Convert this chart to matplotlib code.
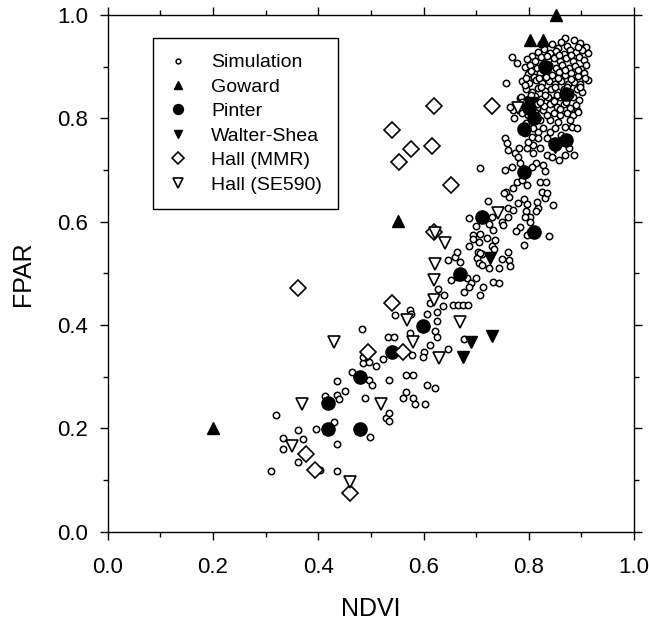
import numpy as np
import matplotlib.pyplot as plt
from matplotlib.ticker import MultipleLocator

plt.rcParams['font.family'] = ['Liberation Sans', 'DejaVu Sans']

# (NDVI, FPAR) pairs
simulation = [
    (0.310, 0.117), (0.319, 0.226), (0.333, 0.181), (0.333, 0.160), (0.361, 0.196),
    (0.361, 0.135), (0.371, 0.180), (0.395, 0.199), (0.413, 0.262), (0.403, 0.120),
    (0.430, 0.213), (0.435, 0.170), (0.435, 0.118), (0.498, 0.183), (0.435, 0.292),
    (0.450, 0.273), (0.435, 0.265), (0.439, 0.257), (0.464, 0.310), (0.489, 0.258),
    (0.483, 0.393), (0.485, 0.327), (0.496, 0.329), (0.485, 0.339), (0.510, 0.320),
    (0.523, 0.334), (0.496, 0.294), (0.502, 0.283), (0.534, 0.294), (0.528, 0.220),
    (0.534, 0.230), (0.534, 0.215), (0.546, 0.420), (0.532, 0.377), (0.544, 0.377),
    (0.566, 0.304), (0.580, 0.304), (0.566, 0.271), (0.561, 0.258), (0.580, 0.258),
    (0.584, 0.248), (0.603, 0.248), (0.607, 0.283), (0.622, 0.278), (0.574, 0.430),
    (0.576, 0.422), (0.606, 0.422), (0.626, 0.426), (0.626, 0.408), (0.625, 0.377),
    (0.622, 0.389), (0.612, 0.443), (0.637, 0.437), (0.656, 0.439), (0.665, 0.439),
    (0.675, 0.439), (0.684, 0.439), (0.574, 0.385), (0.612, 0.362), (0.600, 0.348),
    (0.599, 0.338), (0.646, 0.354), (0.677, 0.373), (0.578, 0.342),
    (0.627, 0.470), (0.639, 0.458), (0.652, 0.487), (0.663, 0.493), (0.682, 0.491),
    (0.690, 0.481), (0.700, 0.491), (0.677, 0.464), (0.686, 0.474), (0.713, 0.474),
    (0.707, 0.458), (0.732, 0.484), (0.743, 0.481),
    (0.646, 0.526), (0.660, 0.532), (0.669, 0.522), (0.663, 0.542), (0.686, 0.553),
    (0.694, 0.574), (0.707, 0.576), (0.694, 0.566), (0.705, 0.561), (0.720, 0.569),
    (0.736, 0.565), (0.730, 0.553), (0.734, 0.547), (0.703, 0.542), (0.711, 0.538),
    (0.701, 0.530), (0.705, 0.520), (0.711, 0.516), (0.707, 0.540), (0.760, 0.542),
    (0.762, 0.526), (0.765, 0.515), (0.749, 0.528), (0.743, 0.510), (0.725, 0.510),
    (0.722, 0.640), (0.686, 0.607), (0.700, 0.591), (0.730, 0.609), (0.725, 0.595),
    (0.732, 0.584), (0.749, 0.600), (0.760, 0.609), (0.760, 0.627), (0.770, 0.622),
    (0.780, 0.636), (0.791, 0.644), (0.762, 0.648), (0.757, 0.658), (0.770, 0.665),
    (0.778, 0.677), (0.797, 0.671), (0.821, 0.677), (0.833, 0.677), (0.825, 0.658),
    (0.831, 0.646), (0.846, 0.632), (0.818, 0.627), (0.814, 0.621), (0.797, 0.634),
    (0.795, 0.621), (0.802, 0.609), (0.793, 0.609), (0.802, 0.600), (0.783, 0.590),
    (0.776, 0.582), (0.802, 0.580), (0.797, 0.574), (0.838, 0.572), (0.791, 0.555),
    (0.751, 0.594), (0.816, 0.638), (0.753, 0.656), (0.707, 0.704), (0.787, 0.681),
    (0.835, 0.656),
    (0.755, 0.762), (0.759, 0.752), (0.774, 0.733), (0.782, 0.743), (0.780, 0.725),
    (0.796, 0.742), (0.808, 0.749), (0.821, 0.742), (0.808, 0.733), (0.834, 0.729),
    (0.844, 0.725), (0.858, 0.719), (0.869, 0.729), (0.886, 0.729), (0.783, 0.713),
    (0.814, 0.713), (0.827, 0.709), (0.831, 0.698), (0.768, 0.706), (0.755, 0.700),
    (0.806, 0.706), (0.761, 0.739), (0.799, 0.754), (0.793, 0.772),
    (0.770, 0.816), (0.783, 0.840), (0.815, 0.820), (0.827, 0.816), (0.844, 0.830),
    (0.853, 0.812), (0.869, 0.820), (0.882, 0.816), (0.891, 0.816), (0.821, 0.797),
    (0.840, 0.797), (0.856, 0.793), (0.869, 0.783), (0.882, 0.783), (0.891, 0.781),
    (0.808, 0.781), (0.818, 0.774), (0.827, 0.781), (0.840, 0.774), (0.850, 0.781),
    (0.806, 0.764), (0.818, 0.762), (0.834, 0.762), (0.846, 0.754), (0.765, 0.822),
    (0.772, 0.800),
    (0.768, 0.918), (0.777, 0.908), (0.757, 0.868), (0.913, 0.874), (0.869, 0.955),
    (0.845, 0.944), (0.862, 0.948), (0.873, 0.941), (0.886, 0.951), (0.897, 0.946),
    (0.908, 0.939), (0.856, 0.936),
    (0.818, 0.928), (0.829, 0.934), (0.841, 0.927), (0.852, 0.931), (0.866, 0.925),
    (0.878, 0.933), (0.889, 0.928), (0.901, 0.932), (0.912, 0.926), (0.806, 0.921),
    (0.797, 0.914), (0.812, 0.912), (0.823, 0.918), (0.836, 0.913), (0.848, 0.917),
    (0.859, 0.911), (0.871, 0.916), (0.884, 0.912), (0.895, 0.918), (0.905, 0.913),
    (0.792, 0.899), (0.803, 0.903), (0.815, 0.897), (0.827, 0.902), (0.851, 0.898),
    (0.863, 0.903), (0.876, 0.897), (0.888, 0.901), (0.899, 0.896), (0.909, 0.903),
    (0.798, 0.886), (0.809, 0.881), (0.821, 0.888), (0.845, 0.884), (0.857, 0.889),
    (0.869, 0.883), (0.881, 0.887), (0.893, 0.882), (0.904, 0.888),
    (0.788, 0.872), (0.801, 0.868), (0.813, 0.874), (0.826, 0.869), (0.838, 0.873),
    (0.850, 0.867), (0.862, 0.872), (0.874, 0.866), (0.886, 0.871), (0.898, 0.867),
    (0.794, 0.856), (0.806, 0.852), (0.818, 0.858), (0.830, 0.853), (0.843, 0.857),
    (0.855, 0.851), (0.867, 0.856), (0.879, 0.852), (0.891, 0.857), (0.902, 0.851),
    (0.786, 0.842), (0.799, 0.838), (0.811, 0.843), (0.823, 0.837), (0.836, 0.841),
    (0.848, 0.836), (0.860, 0.842), (0.872, 0.837), (0.884, 0.841), (0.896, 0.836),
    (0.781, 0.826), (0.793, 0.822), (0.816, 0.827), (0.829, 0.823), (0.841, 0.828),
    (0.853, 0.822), (0.866, 0.827), (0.878, 0.821), (0.890, 0.826),
    (0.787, 0.811), (0.799, 0.807), (0.812, 0.812), (0.835, 0.806), (0.847, 0.811),
    (0.859, 0.806), (0.872, 0.811), (0.884, 0.806), (0.893, 0.812),
    (0.824, 0.944), (0.835, 0.921), (0.857, 0.922), (0.881, 0.923), (0.894, 0.938),
    (0.804, 0.892), (0.833, 0.891), (0.839, 0.904), (0.869, 0.894), (0.893, 0.893),
    (0.795, 0.878), (0.819, 0.879), (0.832, 0.880), (0.856, 0.878), (0.880, 0.876),
    (0.907, 0.878), (0.792, 0.864), (0.824, 0.861), (0.849, 0.860), (0.873, 0.861),
    (0.897, 0.861), (0.804, 0.846), (0.830, 0.845), (0.854, 0.845), (0.878, 0.846),
    (0.788, 0.832), (0.822, 0.832), (0.847, 0.833), (0.871, 0.832), (0.804, 0.818),
    (0.860, 0.818), (0.878, 0.797), (0.862, 0.767), (0.876, 0.742), (0.795, 0.792),
]

goward = [(0.200, 0.200), (0.551, 0.602), (0.802, 0.952), (0.827, 0.952), (0.852, 1.000)]

pinter = [
    (0.418, 0.199), (0.418, 0.249), (0.479, 0.300), (0.479, 0.199), (0.540, 0.348),
    (0.599, 0.398), (0.669, 0.499), (0.711, 0.609), (0.810, 0.580), (0.790, 0.697),
    (0.790, 0.780), (0.810, 0.800), (0.800, 0.820), (0.831, 0.900), (0.871, 0.847),
    (0.871, 0.758), (0.850, 0.750),
]

walter_shea = [(0.850, 0.745), (0.805, 0.830), (0.727, 0.530), (0.690, 0.368),
               (0.730, 0.378), (0.675, 0.338)]

hall_mmr = [
    (0.361, 0.472), (0.376, 0.151), (0.393, 0.120), (0.460, 0.075), (0.494, 0.348),
    (0.561, 0.348), (0.540, 0.443), (0.620, 0.580), (0.652, 0.671), (0.553, 0.715),
    (0.541, 0.777), (0.576, 0.740), (0.616, 0.747), (0.620, 0.823), (0.730, 0.823),
]

hall_se590 = [
    (0.350, 0.166), (0.369, 0.248), (0.430, 0.368), (0.460, 0.097), (0.519, 0.248),
    (0.568, 0.410), (0.580, 0.368), (0.630, 0.336), (0.620, 0.449), (0.620, 0.487),
    (0.622, 0.518), (0.622, 0.578), (0.640, 0.559), (0.669, 0.406), (0.742, 0.617),
    (0.780, 0.820),
]

fig = plt.figure(figsize=(6.49, 6.27), dpi=100)
ax = fig.add_axes([0.166, 0.152, 0.811, 0.824])

x, y = np.array(simulation).T
ax.plot(x, y, 'o', ms=4.6, mfc='white', mec='black', mew=1.1, label='Simulation')
x, y = np.array(goward).T
ax.plot(x, y, '^', ms=8, color='black', label='Goward', clip_on=False)
x, y = np.array(pinter).T
ax.plot(x, y, 'o', ms=9.5, color='black', label='Pinter')
x, y = np.array(walter_shea).T
ax.plot(x, y, 'v', ms=8, color='black', label='Walter-Shea')
x, y = np.array(hall_mmr).T
ax.plot(x, y, 'D', ms=8, mfc='white', mec='black', mew=1.2, label='Hall (MMR)')
x, y = np.array(hall_se590).T
ax.plot(x, y, 'v', ms=9, mfc='white', mec='black', mew=1.2, label='Hall (SE590)')

ax.set_xlim(0, 1)
ax.set_ylim(0, 1)
ax.xaxis.set_major_locator(MultipleLocator(0.2))
ax.xaxis.set_minor_locator(MultipleLocator(0.1))
ax.yaxis.set_major_locator(MultipleLocator(0.2))
ax.yaxis.set_minor_locator(MultipleLocator(0.1))
ax.xaxis.set_major_formatter(plt.FuncFormatter(lambda v, p: '%.1f' % v))
ax.yaxis.set_major_formatter(plt.FuncFormatter(lambda v, p: '%.1f' % v))
ax.tick_params(which='both', direction='out', top=True, right=True, width=1, color='black')
ax.tick_params(which='major', length=6, labelsize=16)
ax.tick_params(which='minor', length=3.5)
ax.tick_params(axis='x', pad=12)
ax.tick_params(axis='y', pad=8)
for s in ax.spines.values():
    s.set_linewidth(1)

ax.set_xlabel('NDVI', fontsize=18, labelpad=14)
ax.set_ylabel('FPAR', fontsize=18, labelpad=16)

leg = ax.legend(loc='upper left', bbox_to_anchor=(0.0856, 0.955), borderaxespad=0,
                fontsize=14, fancybox=False, edgecolor='black', framealpha=1,
                markerscale=0.75, borderpad=0.8, handlelength=1.0, handletextpad=1.2,
                labelspacing=0.35, numpoints=1)
leg.get_frame().set_linewidth(1)

fig.savefig('out.png', dpi=100)
